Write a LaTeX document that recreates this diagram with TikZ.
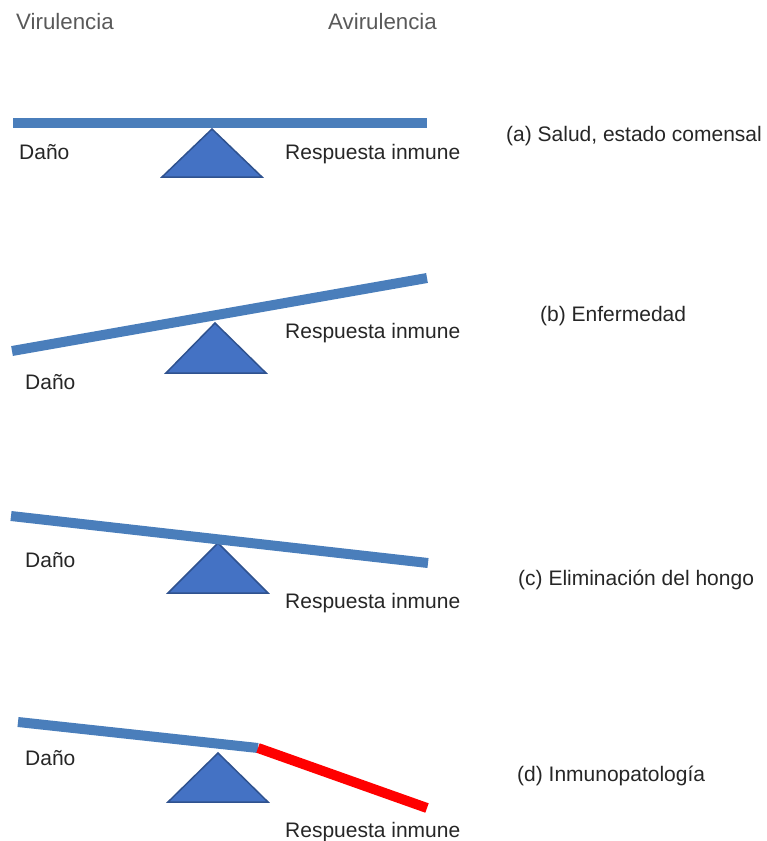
\documentclass[tikz,border=0pt]{standalone}
\usepackage{fontspec}
\setmainfont{Liberation Sans}
\definecolor{beamblue}{HTML}{4A7EBB}
\definecolor{pivotfill}{HTML}{4472C4}
\definecolor{pivotedge}{HTML}{2F528F}
\definecolor{beamred}{HTML}{FF0000}
\definecolor{labelgray}{HTML}{262626}
\definecolor{headgray}{HTML}{595959}
\begin{document}
\begin{tikzpicture}[x=1pt,y=-1pt,
  beam/.style={draw=beamblue,line width=10pt,line cap=butt},
  hotbeam/.style={draw=beamred,line width=10pt,line cap=butt},
  pivot/.style={fill=pivotfill,draw=pivotedge,line width=1.5pt,line join=miter},
  lbl/.style={anchor=base west,inner sep=0pt,text=labelgray,font=\fontsize{21}{25}\selectfont},
  head/.style={lbl,text=headgray,font=\fontsize{22.3}{26}\selectfont}]
\useasboundingbox (0,0) rectangle (767,841);

% column headings
\node[head] (vir) at (16,29) {Virulencia};
\node[head] (avir) at (328,29) {Avirulencia};

% (a) balanced seesaw
\coordinate (aL) at (13,123);
\coordinate (aR) at (427,123);
\draw[pivot] (212,129) -- (262,177) -- (162,177) -- cycle;
\draw[beam] (aL) -- (aR);
\node[lbl] (adano) at (19,159) {Daño};
\node[lbl] (aresp) at (285,159) {Respuesta inmune};
\node[lbl] (acap) at (506,141) {(a) Salud, estado comensal};

% (b) tilted towards damage
\coordinate (bL) at (12,351);
\coordinate (bR) at (427,278);
\draw[pivot] (215,323) -- (266,373) -- (166,373) -- cycle;
\draw[beam] (bL) -- (bR);
\node[lbl] (bresp) at (285,338) {Respuesta inmune};
\node[lbl] (bdano) at (25,389) {Daño};
\node[lbl] (bcap) at (540,321) {(b) Enfermedad};

% (c) tilted towards immune response
\coordinate (cL) at (11,516);
\coordinate (cR) at (428,563);
\draw[pivot] (218,543) -- (268,593) -- (168,593) -- cycle;
\draw[beam] (cL) -- (cR);
\node[lbl] (cdano) at (25,567) {Daño};
\node[lbl] (cresp) at (285,608) {Respuesta inmune};
\node[lbl] (ccap) at (518,585) {(c) Eliminación del hongo};

% (d) excessive immune response
\coordinate (dL) at (18,722);
\coordinate (dJ) at (258,748);
\coordinate (dR) at (427,808);
\draw[pivot] (218,753) -- (268,802) -- (168,802) -- cycle;
\draw[beam] (dL) -- (dJ);
\draw[hotbeam] (dJ) -- (dR);
\node[lbl] (ddano) at (25,765) {Daño};
\node[lbl] (dcap) at (517,781) {(d) Inmunopatología};
\node[lbl] (dresp) at (285,837) {Respuesta inmune};
\end{tikzpicture}
\end{document}
